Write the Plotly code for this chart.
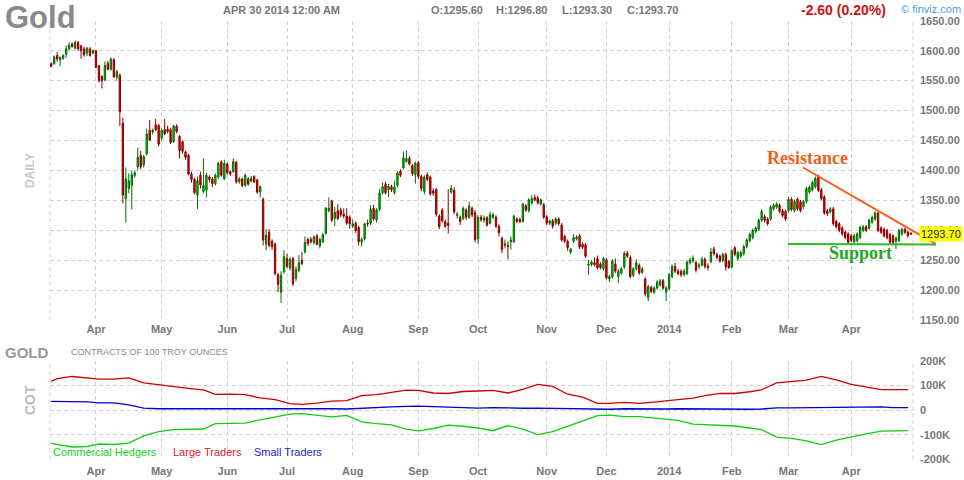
import numpy as np
import pandas as pd
import plotly.graph_objects as go

# ---------------- data ----------------
holidays = ['2013-03-29', '2013-05-27', '2013-07-04', '2013-09-02', '2013-11-28',
            '2013-12-25', '2014-01-01', '2014-01-20', '2014-02-17', '2014-04-18']
trade_dates = pd.bdate_range('2013-03-08', '2014-04-30')
trade_dates = trade_dates[~trade_dates.isin(pd.to_datetime(holidays))]

opens = [
    1578, 1578, 1592, 1585, 1587, 1594, 1603, 1611, 1604, 1614,
    1608, 1603, 1596, 1603, 1596, 1600, 1575, 1557, 1551, 1579,
    1569, 1585, 1556, 1559, 1479, 1353, 1370, 1375, 1392, 1406,
    1425, 1409, 1428, 1467, 1464, 1476, 1475, 1454, 1468, 1469,
    1468, 1448, 1474, 1457, 1448, 1431, 1425, 1394, 1385, 1359,
    1392, 1365, 1367, 1389, 1386, 1378, 1389, 1414, 1386, 1411,
    1398, 1398, 1414, 1381, 1386, 1375, 1386, 1382, 1390, 1384,
    1364, 1352, 1277, 1297, 1282, 1277, 1226, 1197, 1231, 1253,
    1237, 1253, 1220, 1233, 1250, 1264, 1285, 1285, 1280, 1291,
    1274, 1281, 1295, 1333, 1349, 1320, 1333, 1334, 1327, 1324,
    1322, 1307, 1312, 1305, 1281, 1286, 1312, 1312, 1337, 1318,
    1335, 1363, 1377, 1368, 1373, 1363, 1375, 1399, 1404, 1415,
    1420, 1408, 1393, 1413, 1390, 1365, 1393, 1389, 1366, 1368,
    1324, 1334, 1315, 1312, 1364, 1367, 1325, 1322, 1320, 1334,
    1322, 1337, 1330, 1286, 1322, 1317, 1321, 1312, 1322, 1322,
    1307, 1287, 1275, 1275, 1281, 1281, 1319, 1318, 1315, 1341,
    1333, 1346, 1355, 1354, 1344, 1343, 1323, 1312, 1316, 1312,
    1319, 1309, 1290, 1282, 1264, 1282, 1286, 1291, 1277, 1276,
    1242, 1243, 1246, 1253, 1244, 1236, 1251, 1219, 1223, 1244,
    1223, 1229, 1239, 1262, 1255, 1225, 1236, 1242, 1230, 1219,
    1188, 1205, 1197, 1204, 1209, 1216, 1197, 1203, 1223, 1240,
    1232, 1232, 1226, 1228, 1246, 1249, 1246, 1240, 1242, 1252,
    1240, 1248, 1269, 1260, 1257, 1250, 1260, 1248, 1239, 1271,
    1253, 1257, 1261, 1273, 1283, 1288, 1298, 1302, 1317, 1323,
    1319, 1319, 1336, 1339, 1342, 1333, 1332, 1333, 1352, 1333,
    1352, 1348, 1339, 1348, 1364, 1368, 1373, 1391, 1368, 1356,
    1333, 1331, 1336, 1315, 1311, 1304, 1297, 1294, 1291, 1281,
    1283, 1288, 1300, 1306, 1304, 1314, 1319, 1329, 1304, 1302,
    1300, 1293, 1291, 1282, 1283, 1294, 1302, 1297, 1295.6]
highs = [
    1581, 1592, 1598, 1590, 1594, 1609, 1614, 1614, 1617, 1616,
    1610, 1606, 1606, 1606, 1602, 1601, 1576, 1559, 1582, 1583,
    1589, 1588, 1568, 1562, 1488, 1405, 1395, 1400, 1400, 1438,
    1433, 1426, 1470, 1484, 1470, 1486, 1478, 1470, 1486, 1475,
    1471, 1476, 1477, 1459, 1450, 1433, 1428, 1398, 1388, 1390,
    1398, 1420, 1396, 1392, 1389, 1395, 1415, 1417, 1418, 1413,
    1400, 1420, 1416, 1389, 1388, 1395, 1389, 1391, 1392, 1386,
    1375, 1355, 1302, 1302, 1285, 1280, 1229, 1232, 1267, 1261,
    1255, 1256, 1240, 1259, 1264, 1290, 1288, 1289, 1292, 1294,
    1288, 1296, 1339, 1355, 1351, 1339, 1344, 1338, 1337, 1337,
    1325, 1318, 1315, 1308, 1288, 1313, 1318, 1342, 1343, 1337,
    1370, 1380, 1381, 1378, 1376, 1383, 1399, 1402, 1432, 1434,
    1424, 1411, 1415, 1416, 1393, 1392, 1397, 1392, 1370, 1371,
    1327, 1337, 1318, 1369, 1376, 1372, 1331, 1325, 1340, 1337,
    1348, 1340, 1334, 1326, 1326, 1325, 1324, 1331, 1330, 1325,
    1310, 1290, 1285, 1282, 1290, 1326, 1322, 1321, 1346, 1344,
    1354, 1359, 1360, 1358, 1353, 1346, 1326, 1318, 1319, 1322,
    1322, 1312, 1293, 1285, 1271, 1294, 1292, 1294, 1280, 1279,
    1251, 1250, 1255, 1258, 1247, 1256, 1254, 1226, 1252, 1253,
    1235, 1239, 1265, 1266, 1258, 1239, 1252, 1245, 1239, 1222,
    1209, 1208, 1207, 1217, 1219, 1219, 1207, 1229, 1243, 1246,
    1236, 1235, 1236, 1250, 1255, 1258, 1249, 1246, 1256, 1255,
    1245, 1271, 1273, 1263, 1260, 1263, 1263, 1251, 1269, 1274,
    1266, 1266, 1276, 1287, 1296, 1303, 1307, 1320, 1336, 1327,
    1322, 1342, 1345, 1347, 1345, 1336, 1335, 1356, 1355, 1351,
    1355, 1351, 1351, 1373, 1375, 1383, 1390, 1393, 1371, 1359,
    1336, 1339, 1339, 1318, 1314, 1307, 1300, 1297, 1294, 1294,
    1297, 1308, 1309, 1309, 1320, 1325, 1332, 1331, 1307, 1305,
    1303, 1296, 1294, 1290, 1303, 1305, 1305, 1300, 1296.8]
lows = [
    1572, 1577, 1582, 1574, 1585, 1588, 1600, 1605, 1602, 1600,
    1587, 1590, 1591, 1590, 1594, 1571, 1547, 1537, 1549, 1567,
    1567, 1555, 1550, 1474, 1345, 1313, 1362, 1335, 1388, 1400,
    1402, 1405, 1425, 1449, 1460, 1466, 1440, 1450, 1459, 1462,
    1444, 1446, 1462, 1420, 1428, 1418, 1392, 1380, 1360, 1336,
    1370, 1362, 1355, 1380, 1372, 1375, 1386, 1390, 1384, 1393,
    1391, 1396, 1378, 1378, 1372, 1373, 1375, 1380, 1379, 1361,
    1355, 1275, 1267, 1272, 1268, 1225, 1197, 1179, 1228, 1237,
    1233, 1207, 1215, 1230, 1242, 1261, 1274, 1278, 1276, 1275,
    1270, 1279, 1293, 1330, 1314, 1307, 1317, 1322, 1320, 1309,
    1303, 1304, 1296, 1275, 1273, 1283, 1306, 1309, 1316, 1313,
    1332, 1360, 1360, 1356, 1364, 1360, 1372, 1389, 1402, 1413,
    1408, 1391, 1378, 1386, 1365, 1360, 1382, 1358, 1358, 1323,
    1302, 1313, 1304, 1295, 1361, 1327, 1320, 1309, 1317, 1318,
    1319, 1322, 1280, 1277, 1314, 1313, 1306, 1310, 1319, 1304,
    1290, 1262, 1270, 1252, 1268, 1279, 1312, 1312, 1313, 1331,
    1330, 1343, 1349, 1343, 1341, 1319, 1309, 1309, 1303, 1309,
    1308, 1281, 1279, 1266, 1260, 1279, 1283, 1269, 1269, 1254,
    1226, 1240, 1240, 1235, 1235, 1233, 1218, 1214, 1220, 1229,
    1212, 1226, 1236, 1254, 1220, 1222, 1233, 1226, 1227, 1190,
    1182, 1195, 1194, 1201, 1206, 1201, 1182, 1200, 1220, 1229,
    1225, 1222, 1223, 1225, 1243, 1246, 1230, 1235, 1240, 1236,
    1233, 1245, 1258, 1252, 1246, 1247, 1233, 1236, 1237, 1257,
    1250, 1254, 1258, 1270, 1280, 1285, 1295, 1299, 1314, 1313,
    1308, 1316, 1333, 1336, 1329, 1322, 1316, 1330, 1332, 1330,
    1333, 1330, 1336, 1345, 1361, 1365, 1370, 1364, 1350, 1326,
    1324, 1328, 1308, 1303, 1297, 1291, 1285, 1277, 1280, 1278,
    1280, 1285, 1297, 1297, 1301, 1311, 1316, 1297, 1294, 1288,
    1285, 1277, 1277, 1269, 1280, 1291, 1294, 1288, 1293.3]
closes = [
    1574, 1590, 1586, 1589, 1592, 1603, 1609, 1607, 1614, 1603,
    1600, 1593, 1604, 1592, 1600, 1572, 1550, 1550, 1575, 1569,
    1586, 1556, 1565, 1498, 1359, 1386, 1383, 1393, 1396, 1422,
    1406, 1423, 1461, 1451, 1467, 1468, 1444, 1467, 1461, 1465,
    1447, 1474, 1465, 1433, 1432, 1422, 1394, 1385, 1363, 1383,
    1376, 1375, 1392, 1385, 1378, 1392, 1412, 1392, 1412, 1396,
    1394, 1415, 1381, 1386, 1375, 1392, 1377, 1387, 1381, 1364,
    1373, 1284, 1292, 1275, 1273, 1228, 1210, 1225, 1256, 1240,
    1252, 1211, 1235, 1246, 1245, 1280, 1278, 1281, 1289, 1277,
    1285, 1293, 1337, 1337, 1317, 1330, 1320, 1326, 1324, 1312,
    1311, 1311, 1300, 1281, 1285, 1311, 1311, 1335, 1319, 1334,
    1362, 1373, 1363, 1374, 1368, 1372, 1396, 1392, 1421, 1420,
    1411, 1395, 1412, 1390, 1370, 1389, 1385, 1361, 1362, 1327,
    1306, 1316, 1307, 1308, 1370, 1331, 1327, 1315, 1337, 1322,
    1341, 1326, 1285, 1322, 1318, 1321, 1309, 1326, 1326, 1307,
    1296, 1268, 1278, 1273, 1284, 1324, 1315, 1315, 1344, 1334,
    1351, 1353, 1351, 1346, 1351, 1322, 1312, 1316, 1307, 1319,
    1311, 1284, 1282, 1271, 1269, 1288, 1289, 1272, 1272, 1257,
    1244, 1247, 1243, 1238, 1238, 1253, 1221, 1223, 1249, 1232,
    1232, 1236, 1262, 1257, 1223, 1236, 1246, 1229, 1236, 1194,
    1206, 1198, 1204, 1214, 1216, 1204, 1204, 1226, 1240, 1232,
    1228, 1226, 1232, 1247, 1251, 1254, 1234, 1242, 1252, 1240,
    1238, 1264, 1261, 1255, 1249, 1260, 1239, 1238, 1266, 1260,
    1263, 1263, 1273, 1284, 1293, 1300, 1304, 1317, 1332, 1317,
    1311, 1339, 1342, 1344, 1332, 1325, 1319, 1352, 1335, 1348,
    1336, 1333, 1348, 1370, 1372, 1380, 1387, 1367, 1353, 1329,
    1328, 1336, 1311, 1306, 1300, 1294, 1288, 1280, 1283, 1291,
    1294, 1305, 1306, 1300, 1317, 1322, 1329, 1300, 1297, 1291,
    1288, 1280, 1280, 1287, 1300, 1302, 1297, 1291, 1293.7]

# Weekly COT positions (thousands of contracts), report Tuesdays
cot_dates = pd.date_range('2013-03-05', '2014-04-29', freq='W-TUE')
large_traders = [116, 127, 136, 130, 125, 125, 130, 110, 102, 96, 88, 82, 63, 64, 62,
                 49, 42, 26, 23, 28, 36, 38, 58, 62, 72, 81, 80, 69, 67, 75,
                 77, 80, 69, 84, 104, 96, 64, 52, 27, 27, 31, 27, 32, 36, 42,
                 48, 58, 67, 67, 74, 82, 110, 117, 121, 136, 122, 104, 92, 83, 83, 83]
small_traders = [35, 35, 35, 33, 29, 29, 21, 8, 5, 5, 5, 8, 7, 5, 5,
                 5, 5, 8, 7, 5, 5, 4, 8, 12, 13, 15, 16, 14, 12, 10,
                 8, 10, 8, 7, 8, 7, 5, 5, 4, 3, 5, 4, 3, 4, 5,
                 4, 3, 3, 3, 3, 4, 9, 9, 10, 11, 12, 13, 13, 13, 10, 10]
commercial_hedgers = [-135, -140, -150, -148, -138, -140, -134, -105, -88, -80, -77, -77, -55, -55, -53,
                      -40, -28, -17, -15, -20, -28, -22, -48, -55, -60, -78, -85, -75, -61, -66,
                      -73, -84, -63, -78, -100, -88, -67, -45, -23, -21, -27, -27, -33, -38, -42,
                      -57, -60, -63, -65, -73, -80, -110, -115, -125, -140, -122, -108, -97, -86, -84, -84]

price_ticks = [1150, 1200, 1250, 1300, 1350, 1400, 1450, 1500, 1550, 1600, 1650]
cot_ticks = [-200, -100, 0, 100, 200]
cot_tick_text = ['-200K', '-100K', '0', '100K', '200K']

# ---------------- derived ----------------
n = len(closes)
trade_dates = trade_dates[:n]
xi = np.arange(n)
periods = trade_dates.to_period('M')
first_idx = [i for i in range(1, n) if periods[i] != periods[i - 1]]
month_text = [str(trade_dates[i].year) if trade_dates[i].month == 1 else trade_dates[i].strftime('%b')
              for i in first_idx]
cot_x = trade_dates.searchsorted(cot_dates)

W, H = 964, 480
L_M, R_M = 50, 51
PW = W - L_M - R_M


def px(x):
    return (x - L_M) / PW


def py(y):
    return 1 - y / H


FONT = 'Liberation Sans, Arial, sans-serif'
GRID = '#d2d2d2'
DASH = '4px,3px'
LABEL = '#777777'

fig = go.Figure()
fig.add_trace(go.Candlestick(
    x=xi, open=opens, high=highs, low=lows, close=closes,
    increasing=dict(line=dict(color='#006e00', width=1), fillcolor='#00d000'),
    decreasing=dict(line=dict(color='#8a0000', width=1), fillcolor='#ee0000'),
    whiskerwidth=0, xaxis='x', yaxis='y', hoverinfo='skip'))

for vals, col in [(commercial_hedgers, '#11cc11'), (large_traders, '#cc0000'), (small_traders, '#0000cc')]:
    fig.add_trace(go.Scatter(x=cot_x, y=vals, mode='lines', line=dict(color=col, width=1.3),
                             xaxis='x2', yaxis='y2', hoverinfo='skip'))

xrange = [-0.4, n - 0.3]
xcommon = dict(range=xrange, tickmode='array', tickvals=first_idx, ticktext=month_text,
               showgrid=True, gridcolor=GRID, griddash=DASH, gridwidth=1, zeroline=False,
               showline=False, ticks='', fixedrange=True,
               tickfont=dict(family=FONT, size=11, color=LABEL, weight='bold'))
ycommon = dict(side='right', showgrid=True, gridcolor=GRID, griddash=DASH, gridwidth=1,
               zeroline=False, showline=False, ticks='', ticklabelstandoff=6, automargin=False,
               fixedrange=True, tickfont=dict(family=FONT, size=11, color=LABEL, weight='bold'))

fig.update_layout(
    width=W, height=H, margin=dict(l=L_M, r=R_M, t=0, b=0, autoexpand=False),
    paper_bgcolor='white', plot_bgcolor='white', showlegend=False, boxgap=0.35,
    hovermode=False,
    xaxis=dict(**xcommon, anchor='y', domain=[0, 1], rangeslider=dict(visible=False), ticklabelstandoff=1),
    yaxis=dict(**ycommon, anchor='x', domain=[py(320.3), py(20.7)], range=[1150, 1650],
               tickvals=price_ticks, tickformat='.2f'),
    xaxis2=dict(**xcommon, anchor='y2', domain=[0, 1], ticklabelstandoff=4),
    yaxis2=dict(**ycommon, anchor='x2', domain=[py(459.3), py(360.7)], range=[-200, 200],
                tickvals=cot_ticks, ticktext=cot_tick_text),
)

# panel side borders (dashed)
shapes = []
for xr, yr in [('x domain', 'y domain'), ('x2 domain', 'y2 domain')]:
    for xv in (0, 1):
        shapes.append(dict(type='line', xref=xr, yref=yr, x0=xv, x1=xv, y0=0, y1=1,
                           line=dict(color=GRID, width=1, dash=DASH), layer='below'))
# trend lines
shapes.append(dict(type='line', xref='paper', yref='y', x0=px(803), y0=1405, x1=px(936), y1=1277,
                   line=dict(color='#ff5a14', width=2)))
shapes.append(dict(type='line', xref='paper', yref='y', x0=px(788), y0=1277.5, x1=px(936), y1=1276.5,
                   line=dict(color='#2db82d', width=2)))
fig.update_layout(shapes=shapes)


def ann(text, x, y, size=11, color=LABEL, bold=True, xanchor='left', angle=0, fam=FONT, **kw):
    fig.add_annotation(text=text, xref='paper', yref='paper', x=px(x), y=py(y), showarrow=False,
                       xanchor=xanchor, yanchor='middle', textangle=angle,
                       font=dict(family=fam, size=size, color=color, weight='bold' if bold else 'normal'),
                       **kw)


ann('Gold', 3, 18, size=31, color='#8a8a8a')
ann('APR 30 2014 12:00 AM', 221, 10, size=11)
ann('O:1295.60', 429, 10, size=11)
ann('H:1296.80', 494, 10, size=11)
ann('L:1293.30', 560, 10, size=11)
ann('C:1293.70', 625, 10, size=11)
ann('-2.60 (0.20%)', 799, 10, size=14, color='#d01010')
ann('© finviz.com', 899, 9, size=11, color='#4a9fd8', bold=False)
ann('DAILY', 30, 171, size=12, color='#c8c8c8', xanchor='center', angle=-90)
ann('GOLD', 3, 352, size=15, color='#999999')
ann('CONTRACTS OF 100 TROY OUNCES', 69, 352, size=9, color='#8a8a8a', bold=False)
ann('COT', 30, 400, size=14, color='#bbbbbb', xanchor='center', angle=-90)
ann('Commercial Hedgers', 51, 452, size=11, color='#22cc22', bold=False)
ann('Large Traders', 171, 452, size=11, color='#dd2222', bold=False)
ann('Small Traders', 252, 452, size=11, color='#2222cc', bold=False)
ann('Resistance', 807, 158, size=18, color='#f2601a', xanchor='center', fam='Liberation Serif, serif')
ann('Support', 860, 253, size=18, color='#22aa22', xanchor='center', fam='Liberation Serif, serif')

fig.add_annotation(text=f'{closes[-1]:.2f}', xref='paper', yref='y', x=px(919), y=closes[-1] + 1,
                   showarrow=False, xanchor='left', yanchor='middle', bgcolor='#ffff00', borderpad=1,
                   font=dict(family=FONT, size=11, color='#222222'))

fig.write_html('out.html', config={'displayModeBar': False},
               post_script="document.body.style.margin='0px';")
